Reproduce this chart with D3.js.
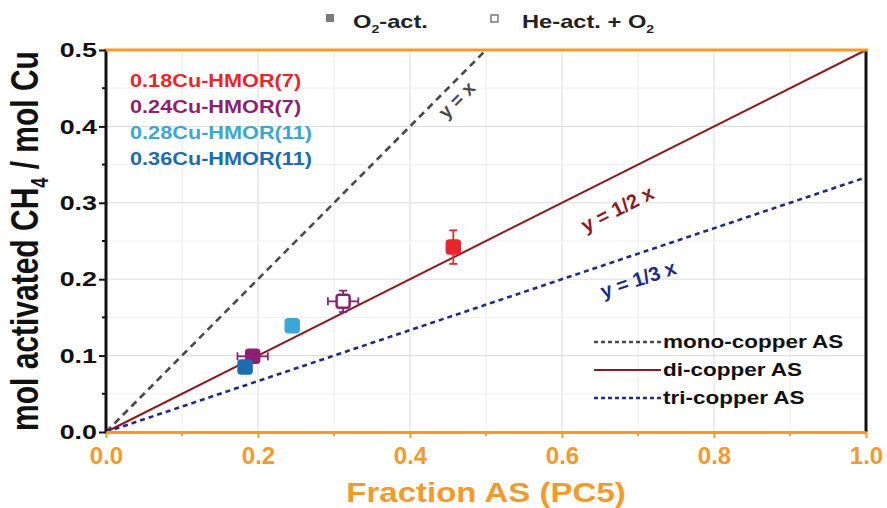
<!DOCTYPE html>
<html>
<head>
<meta charset="utf-8">
<script src="https://cdn.jsdelivr.net/npm/d3@7/dist/d3.min.js"></script>
<style>
  body { margin: 0; background: #fff; }
  svg { font-family: "Liberation Sans", Arial, sans-serif; font-weight: bold; }
</style>
</head>
<body>
<svg id="chart" width="887" height="508"></svg>
<script>
// samples and their colours
const samples = ['0.18Cu-HMOR(7)', '0.24Cu-HMOR(7)', '0.28Cu-HMOR(11)', '0.36Cu-HMOR(11)'];
const sampleColors = ['#e8262b', '#8e1f73', '#3ea6d6', '#1c6db0'];

// measured points: sample index, x, y, x error, y error, activation
const pointSample = [0, 1, 1, 2, 3];
const pointX = [0.457, 0.193, 0.312, 0.245, 0.183];
const pointY = [0.242, 0.099, 0.171, 0.139, 0.085];
const pointXErr = [0.006, 0.02, 0.02, 0.008, 0.008];
const pointYErr = [0.022, 0.006, 0.014, 0.008, 0.006];
const pointOpen = [false, false, true, false, false];

// reference lines y = k x
const lineNames = ['mono-copper AS', 'di-copper AS', 'tri-copper AS'];
const lineSlopes = [1, 0.5, 1 / 3];
const lineLabels = ['y = x', 'y = 1/2 x', 'y = 1/3 x'];
const lineColors = ['#4a4a4a', '#8b1a22', '#222a86'];

const xTicks = [0, 0.2, 0.4, 0.6, 0.8, 1.0];
const yTicks = [0, 0.1, 0.2, 0.3, 0.4, 0.5];

const margin = { left: 106, right: 21, top: 50, bottom: 76 };
const svg = d3.select('#chart');
const width = +svg.attr('width');
const height = +svg.attr('height');

// the original figure is stretched sideways, so is its lettering
const sx = 1.28;

const x = d3.scaleLinear().domain([0, 1]).range([margin.left, width - margin.right]);
const y = d3.scaleLinear().domain([0, 0.5]).range([height - margin.bottom, margin.top]);

// grid
const grid = svg.append('g').attr('stroke-width', 1);
grid.selectAll('.gx')
    .data(d3.range(1, 10).map(d => d / 10))
    .enter().append('line')
    .attr('x1', d => x(d)).attr('x2', d => x(d))
    .attr('y1', y(0)).attr('y2', y(0.5))
    .attr('stroke', (d, i) => i % 2 === 1 ? '#dcdcdc' : '#ececec');
grid.selectAll('.gy')
    .data(d3.range(1, 10).map(d => d / 20))
    .enter().append('line')
    .attr('x1', x(0)).attr('x2', x(1))
    .attr('y1', d => y(d)).attr('y2', d => y(d))
    .attr('stroke', (d, i) => i % 2 === 1 ? '#dcdcdc' : '#efefef');

// reference lines
const lineDash = ['7,5', null, '5,4'];
svg.append('g').selectAll('line')
    .data(lineSlopes)
    .enter().append('line')
    .attr('x1', x(0)).attr('y1', y(0))
    .attr('x2', d => x(Math.min(1, 0.5 / d)))
    .attr('y2', d => y(Math.min(1, 0.5 / d) * d))
    .attr('stroke', (d, i) => lineColors[i])
    .attr('stroke-width', (d, i) => i === 1 ? 2 : 2.6)
    .attr('stroke-dasharray', (d, i) => lineDash[i]);

// line labels along the lines
const labelAt = [0.448, 0.655, 0.69];
const labelOffset = [16, 32, 26];
svg.append('g').selectAll('text')
    .data(lineSlopes)
    .enter().append('text')
    .attr('transform', (d, i) => {
        const px = x(labelAt[i]);
        const py = y(labelAt[i] * d);
        const ang = Math.atan2(y(d) - y(0), x(1) - x(0)) * 180 / Math.PI;
        return `translate(${px},${py}) rotate(${ang}) translate(0,${labelOffset[i]})`;
    })
    .attr('text-anchor', 'middle')
    .attr('dominant-baseline', 'middle')
    .attr('font-size', (d, i) => i === 0 ? 19 : 20)
    .attr('fill', (d, i) => lineColors[i])
    .text((d, i) => lineLabels[i]);

// error bars and markers
const pts = svg.append('g');
const cap = 4;
pointX.forEach((px, i) => {
    const c = sampleColors[pointSample[i]];
    const cx = x(px);
    const cy = y(pointY[i]);
    const g = pts.append('g').attr('stroke', c).attr('stroke-width', 1.8);
    const x0 = x(px - pointXErr[i]);
    const x1 = x(px + pointXErr[i]);
    const y0 = y(pointY[i] - pointYErr[i]);
    const y1 = y(pointY[i] + pointYErr[i]);
    g.append('line').attr('x1', x0).attr('x2', x1).attr('y1', cy).attr('y2', cy);
    g.append('line').attr('x1', cx).attr('x2', cx).attr('y1', y0).attr('y2', y1);
    g.append('line').attr('x1', x0).attr('x2', x0).attr('y1', cy - cap).attr('y2', cy + cap);
    g.append('line').attr('x1', x1).attr('x2', x1).attr('y1', cy - cap).attr('y2', cy + cap);
    g.append('line').attr('x1', cx - cap).attr('x2', cx + cap).attr('y1', y0).attr('y2', y0);
    g.append('line').attr('x1', cx - cap).attr('x2', cx + cap).attr('y1', y1).attr('y2', y1);
    g.append('rect')
        .attr('x', cx - 6.5).attr('y', cy - 6.5)
        .attr('width', 13).attr('height', 13)
        .attr('rx', 2.5)
        .attr('fill', pointOpen[i] ? '#fff' : c)
        .attr('stroke-width', 2.5);
});

// axes
const orange = '#f39a2c';
const axisW = 3;
svg.append('line')
    .attr('x1', x(0)).attr('x2', x(0)).attr('y1', y(0)).attr('y2', y(0.5))
    .attr('stroke', '#111').attr('stroke-width', axisW);
svg.append('line')
    .attr('x1', x(1)).attr('x2', x(1)).attr('y1', y(0)).attr('y2', y(0.5))
    .attr('stroke', '#111').attr('stroke-width', axisW);
svg.append('line')
    .attr('x1', x(0) - 2).attr('x2', x(1) + 2).attr('y1', y(0.5)).attr('y2', y(0.5))
    .attr('stroke', orange).attr('stroke-width', axisW);

const xAxis = svg.append('g')
    .attr('transform', `translate(0,${y(0)})`)
    .call(d3.axisBottom(x).tickValues(xTicks).tickFormat(d3.format('.1f')).tickSize(6).tickSizeOuter(0));
xAxis.select('.domain').attr('stroke', orange).attr('stroke-width', axisW);
xAxis.selectAll('.tick line').attr('stroke', orange).attr('stroke-width', 2);
xAxis.selectAll('.tick text')
    .attr('fill', orange)
    .attr('font-family', '"Liberation Sans Narrow", "Liberation Sans", sans-serif')
    .attr('font-weight', 'bold')
    .attr('font-size', 24)
    .attr('dy', '0.95em');
xAxis.append('g').selectAll('line')
    .data(d3.range(1, 10, 2).map(d => d / 10))
    .enter().append('line')
    .attr('x1', d => x(d)).attr('x2', d => x(d))
    .attr('y1', 0).attr('y2', 4)
    .attr('stroke', orange).attr('stroke-width', 2);

const yAxis = svg.append('g')
    .attr('transform', `translate(${x(0)},0)`)
    .call(d3.axisLeft(y).tickValues(yTicks).tickFormat(d3.format('.1f')).tickSize(7).tickSizeOuter(0));
yAxis.select('.domain').remove();
yAxis.selectAll('.tick line').attr('stroke', '#111').attr('stroke-width', 2);
yAxis.selectAll('.tick text')
    .attr('fill', '#111')
    .attr('font-family', '"Liberation Sans", sans-serif')
    .attr('font-weight', 'bold')
    .attr('font-size', 21)
    .attr('x', -9 / sx)
    .attr('transform', `scale(${sx},1)`);
yAxis.append('g').selectAll('line')
    .data(d3.range(1, 10, 2).map(d => d / 20))
    .enter().append('line')
    .attr('x1', -4).attr('x2', 0)
    .attr('y1', d => y(d)).attr('y2', d => y(d))
    .attr('stroke', '#111').attr('stroke-width', 2);

// axis titles
svg.append('text')
    .attr('transform', `translate(${x(0.5)},502) scale(1.18,1)`)
    .attr('text-anchor', 'middle')
    .attr('font-family', '"Liberation Sans Narrow", "Liberation Sans", sans-serif')
    .attr('font-size', 28)
    .attr('fill', orange)
    .text('Fraction AS (PC5)');

const yTitle = svg.append('text')
    .attr('transform', `translate(38,${y(0.25)}) scale(${sx},1) rotate(-90)`)
    .attr('text-anchor', 'middle')
    .attr('font-size', 30)
    .attr('fill', '#111');
yTitle.append('tspan').text('mol activated CH');
yTitle.append('tspan').attr('font-size', 18).attr('dy', 8).text('4');
yTitle.append('tspan').attr('dy', -8).text(' / mol Cu');

// sample names
svg.append('g').selectAll('text')
    .data(samples)
    .enter().append('text')
    .attr('transform', (d, i) => `translate(130,${87 + i * 26}) scale(1.24,1)`)
    .attr('font-size', 17.5)
    .attr('fill', (d, i) => sampleColors[i])
    .text(d => d);

// top legend: activation type
const topLeg = svg.append('g').attr('font-size', 18.5).attr('fill', '#222');
topLeg.append('rect').attr('x', 326).attr('y', 14).attr('width', 8).attr('height', 8).attr('fill', '#7a7a7a');
const t1 = topLeg.append('text').attr('transform', `translate(353,28) scale(${sx},1)`);
t1.append('tspan').text('O');
t1.append('tspan').attr('font-size', 11).attr('dy', 5).text('2');
t1.append('tspan').attr('dy', -5).text('-act.');
topLeg.append('rect').attr('x', 491).attr('y', 15).attr('width', 7).attr('height', 7)
    .attr('fill', '#fff').attr('stroke', '#7a7a7a').attr('stroke-width', 1.5);
const t2 = topLeg.append('text').attr('transform', `translate(522,28) scale(${sx},1)`);
t2.append('tspan').text('He-act. + O');
t2.append('tspan').attr('font-size', 11).attr('dy', 5).text('2');

// bottom right legend
const leg = svg.append('g');
lineNames.forEach((name, i) => {
    const ly = 342 + i * 28;
    leg.append('line')
        .attr('x1', 594).attr('x2', 661)
        .attr('y1', ly).attr('y2', ly)
        .attr('stroke', lineColors[i])
        .attr('stroke-width', i === 1 ? 2.2 : 2.4)
        .attr('stroke-dasharray', i === 1 ? null : '4,3');
    leg.append('text')
        .attr('transform', `translate(663,${ly + 6}) scale(1.25,1)`)
        .attr('font-size', 18)
        .attr('fill', '#111')
        .text(name);
});
</script>
</body>
</html>
